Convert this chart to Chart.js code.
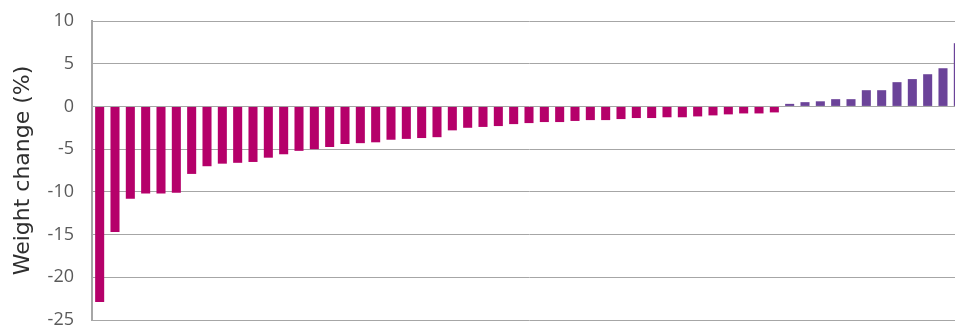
<!DOCTYPE html>
<html>
<head>
<meta charset="utf-8">
<script src="https://cdn.jsdelivr.net/npm/chart.js@4"></script>
<style>
  html, body { margin: 0; padding: 0; overflow: hidden; background: #fff; }
  #wrap { position: absolute; left: 0; top: 0; width: 966px; height: 345px; }
</style>
</head>
<body>
<div id="wrap"><canvas id="weightChart"></canvas></div>
<script>
// one bar per patient, sorted from largest loss to largest gain
const patients = Array.from({ length: 57 }, (_, i) => 'P' + (i + 1));
const weightChange = [
  -22.9, -14.7, -10.8, -10.2, -10.2, -10.1, -7.9, -7.0, -6.7, -6.6,
  -6.5, -6.0, -5.6, -5.2, -5.0, -4.75, -4.4, -4.3, -4.2, -3.9,
  -3.8, -3.7, -3.6, -2.8, -2.5, -2.4, -2.3, -2.07, -1.95, -1.83,
  -1.83, -1.7, -1.6, -1.6, -1.48, -1.36, -1.36, -1.27, -1.27, -1.17,
  -1.05, -0.93, -0.82, -0.82, -0.7, 0.3, 0.5, 0.6, 0.85, 0.85,
  1.9, 1.9, 2.84, 3.2, 3.77, 4.47, 7.4
];
const yTicks = [10, 5, 0, -5, -10, -15, -20, -25];

const lossColor = '#b5006a';
const gainColor = '#6b4399';
const gridColor = '#a6a6a6';

new Chart(document.getElementById('weightChart'), {
  type: 'bar',
  data: {
    labels: patients,
    datasets: [{
      data: weightChange,
      backgroundColor: ctx => (ctx.raw < 0 ? lossColor : gainColor),
      categoryPercentage: 1,
      barPercentage: 0.59
    }]
  },
  options: {
    responsive: true,
    maintainAspectRatio: false,
    animation: false,
    layout: { padding: { top: 21, bottom: 25, left: 0, right: 0 } },
    plugins: { legend: { display: false }, tooltip: { enabled: false } },
    scales: {
      x: { display: false },
      y: {
        min: -25,
        max: 10,
        afterFit: scale => { scale.width = 92; },
        afterBuildTicks: scale => { scale.ticks = yTicks.map(v => ({ value: v })); },
        // invisible tick marks push the labels away from the axis
        grid: { color: gridColor, lineWidth: 1, drawTicks: true, tickLength: 16, tickColor: 'rgba(0,0,0,0)' },
        border: { color: gridColor, width: 2 },
        ticks: {
          padding: 2,
          color: '#5a5a5a',
          font: { family: 'Open Sans', size: 18 }
        },
        title: {
          display: true,
          text: 'Weight change (%)',
          color: '#2e2e2e',
          padding: { top: 10, bottom: 0 },
          font: { family: 'DejaVu Sans', size: 22 }
        }
      }
    }
  }
});
</script>
</body>
</html>
